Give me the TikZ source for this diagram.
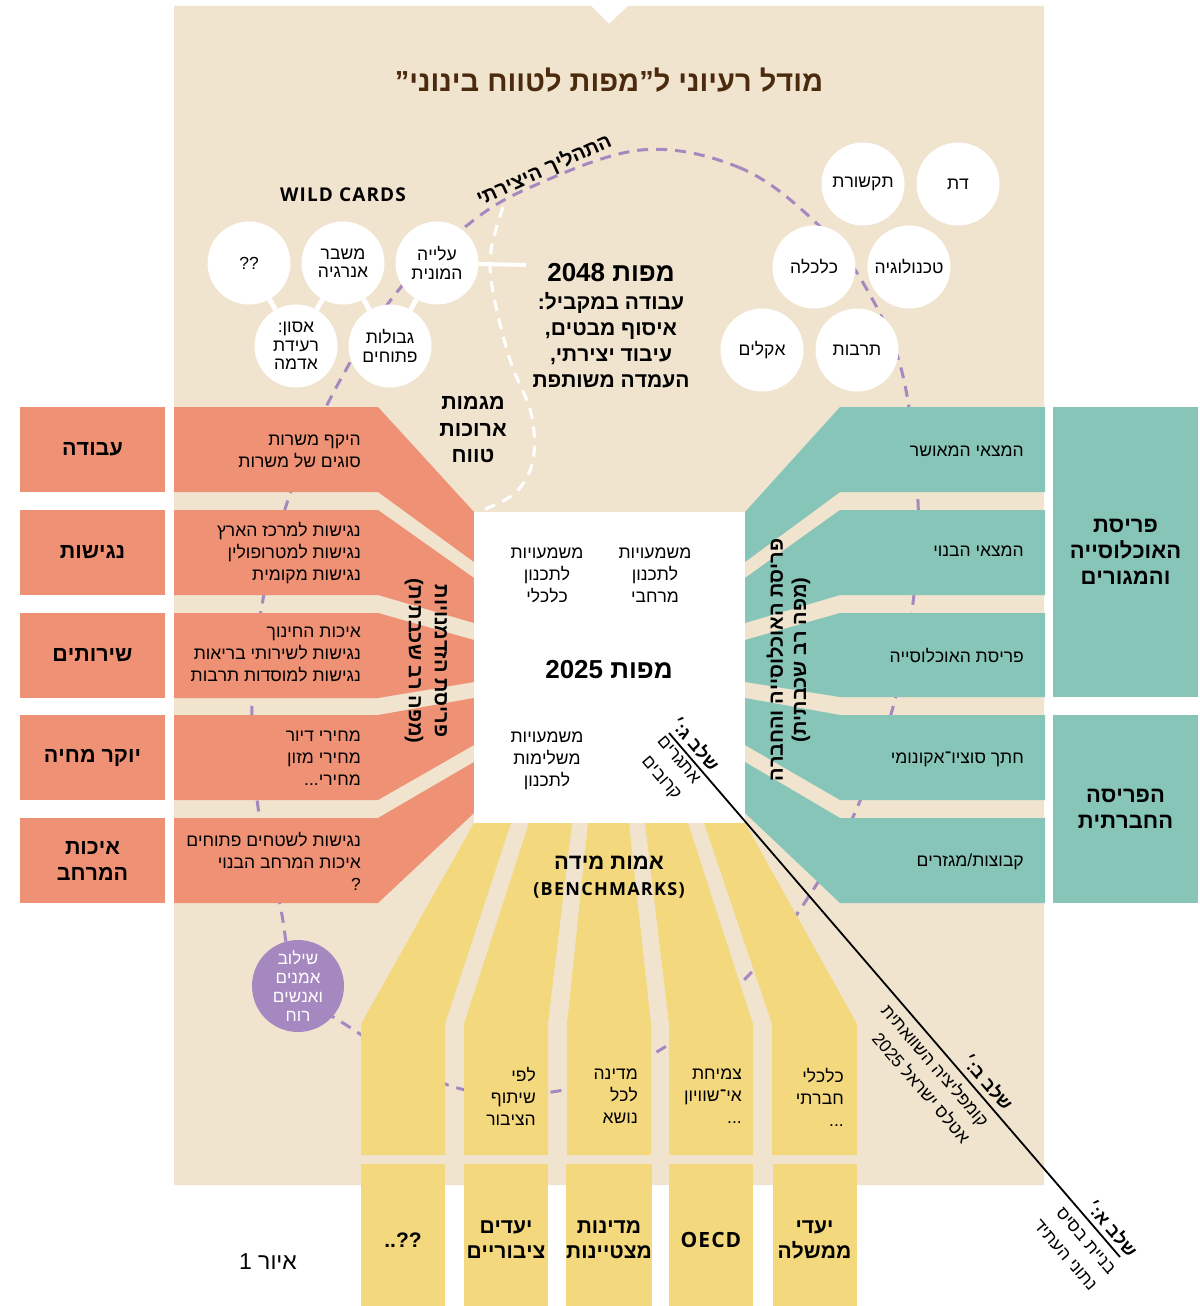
\documentclass[tikz,border=0pt]{standalone}
\usepackage{fontspec}
\setmainfont{Liberation Sans}
\newfontfamily\os{Open Sans}
\TeXXeTstate=1
\usetikzlibrary{calc}
\definecolor{bgc}{HTML}{F0E4CF}
\definecolor{orng}{HTML}{EE9175}
\definecolor{tealc}{HTML}{86C5B8}
\definecolor{yel}{HTML}{F3D87E}
\definecolor{purp}{HTML}{A688C0}
\definecolor{brn}{HTML}{4B2A0E}
\newcommand{\HR}[1]{\beginR#1\endR}
\tikzset{
  body/.style={font=\fontsize{17.5}{22}\selectfont, inner sep=0pt},
  circ/.style={circle, fill=white, minimum size=83pt, inner sep=0pt, align=center, font=\fontsize{17.5}{18.5}\selectfont},
  lbox/.style={inner sep=0pt, align=center, font=\bfseries\fontsize{21.5}{26}\selectfont},
  ybox/.style={fill=yel, minimum width=84pt, minimum height=152pt, inner sep=0pt, align=center, font=\bfseries\fontsize{21}{25}\selectfont},
  vlab/.style={inner sep=0pt, font=\bfseries\fontsize{20}{22}\selectfont},
  stg/.style={inner sep=0pt, anchor=east, rotate=-49.3, font=\bfseries\fontsize{18}{20}\selectfont},
  stgt/.style={inner sep=0pt, anchor=east, rotate=-49.3, align=right, font=\fontsize{17.5}{25}\selectfont},
  pdash/.style={purp, line width=3pt, dash pattern=on 11pt off 8pt},
  wdash/.style={white, line width=3pt, dash pattern=on 11pt off 8pt},
}
\begin{document}
\begin{tikzpicture}[x=1pt,y=-1pt]
\useasboundingbox (0,0) rectangle (1199,1306);
\fill[white] (0,0) rectangle (1199,1306);
\fill[bgc] (174,6) -- (591,6) -- (609,24) -- (628,6) -- (1044,6) -- (1044,1185) -- (174,1185) -- cycle;

% creative process loop
\draw[pdash] plot[smooth cycle, tension=0.6] coordinates {
 (641,150) (738,167) (811,218) (862,281) (902,372) (918,502) (913,603) (893,707)
 (857,808) (813,890) (747,977) (660,1050) (558,1091) (454,1087) (354,1030) (298,985)
 (280,905) (258,807) (252,703) (262,605) (287,503) (328,403) (393,297) (465,227) (531,187)};
\draw[wdash] plot[smooth, tension=0.6] coordinates {(503,207) (491,251) (493,292) (510,360) (531,413) (533,460) (515,493) (478,512)};

% title
\node[font=\bfseries\fontsize{29}{32}\selectfont, text=brn] (title) at (609,80) {"\HR{מודל רעיוני ל"מפות לטווח בינוני}};
\node[font=\os\bfseries\fontsize{19}{22}\selectfont\addfontfeature{LetterSpace=6}] (wild) at (343,195) {WILD CARDS};
\node[font=\bfseries\fontsize{20}{22}\selectfont, rotate=24.5] (proc) at (544,170) {\HR{התהליך היצירתי}};

% wild cards
\node[circ] (wc1) at (249,263) {??};
\node[circ] (wc2) at (343,263) {\HR{משבר}\\\HR{אנרגיה}};
\node[circ] (wc3) at (437,263) {\HR{עלייה}\\\HR{המונית}};
\node[circ] (wc4) at (296,346) {:\HR{אסון}\\\HR{רעידת}\\\HR{אדמה}};
\node[circ] (wc5) at (390,346) {\HR{גבולות}\\\HR{פתוחים}};
\draw[white, line width=5pt] (wc1) -- (wc4);
\draw[white, line width=5pt] (wc2) -- (wc4);
\draw[white, line width=5pt] (wc2) -- (wc5);
\draw[white, line width=5pt] (wc3) -- (wc5);
\coordinate (m48) at (526,265);
\draw[white, line width=4pt] (wc3) -- (m48);

% context circles
\node[circ] (rc1) at (958,184) {\HR{דת}};
\node[circ] (rc2) at (863,184) {\HR{תקשורת}};
\node[circ] (rc3) at (909,267) {\HR{טכנולוגיה}};
\node[circ] (rc4) at (814,267) {\HR{כלכלה}};
\node[circ] (rc5) at (762,350) {\HR{אקלים}};
\node[circ] (rc6) at (857,350) {\HR{תרבות}};

% 2048 text
\node[font=\bfseries\fontsize{26}{28}\selectfont] (m2048) at (611,273) {\HR{מפות 2048}};
\node[font=\bfseries\fontsize{21}{26}\selectfont, align=center, anchor=north] (m2048b) at (611,289) {:\HR{עבודה במקביל}\\,\HR{איסוף מבטים}\\,\HR{עיבוד יצירתי}\\\HR{העמדה משותפת}};
\node[font=\bfseries\fontsize{21.5}{26.5}\selectfont, align=center] (trend) at (473,430) {\HR{מגמות}\\\HR{ארוכות}\\\HR{טווח}};

% left orange bars
\fill[orng] (174,407) -- (378,407) -- (474,512) -- (474,562) -- (378,492) -- (174,492) -- cycle;
\fill[orng] (174,510) -- (378,510) -- (474,578) -- (474,623) -- (378,595) -- (174,595) -- cycle;
\fill[orng] (174,613) -- (378,613) -- (474,640) -- (474,682) -- (378,698) -- (174,698) -- cycle;
\fill[orng] (174,715) -- (378,715) -- (474,698) -- (474,745) -- (378,800) -- (174,800) -- cycle;
\fill[orng] (174,818) -- (378,818) -- (474,762) -- (474,813) -- (378,903) -- (174,903) -- cycle;
\node[lbox, fill=orng, minimum width=145pt, minimum height=85pt] (lb1) at (92.5,449.5) {\HR{עבודה}};
\node[lbox, fill=orng, minimum width=145pt, minimum height=85pt] (lb2) at (92.5,552.5) {\HR{נגישות}};
\node[lbox, fill=orng, minimum width=145pt, minimum height=85pt] (lb3) at (92.5,655.5) {\HR{שירותים}};
\node[lbox, fill=orng, minimum width=145pt, minimum height=85pt] (lb4) at (92.5,757.5) {\HR{יוקר מחיה}};
\node[lbox, fill=orng, minimum width=145pt, minimum height=85pt] (lb5) at (92.5,860.5) {\HR{איכות}\\\HR{המרחב}};
\node[body, align=right, anchor=east] (lt1) at (361,451) {\HR{היקף משרות}\\\HR{סוגים של משרות}};
\node[body, align=right, anchor=east] (lt2) at (361,553) {\HR{נגישות למרכז הארץ}\\\HR{נגישות למטרופולין}\\\HR{נגישות מקומית}};
\node[body, align=right, anchor=east] (lt3) at (361,654) {\HR{איכות החינוך}\\\HR{נגישות לשירותי בריאות}\\\HR{נגישות למוסדות תרבות}};
\node[body, align=right, anchor=east] (lt4) at (361,758) {\HR{מחירי דיור}\\\HR{מחירי מזון}\\...\HR{מחירי}};
\node[body, align=right, anchor=east] (lt5) at (361,861) {\HR{נגישות לשטחים פתוחים}\\\HR{איכות המרחב הבנוי}\\?};

% right teal bars
\fill[tealc] (1045,407) -- (840,407) -- (745,512) -- (745,562) -- (840,492) -- (1045,492) -- cycle;
\fill[tealc] (1045,510) -- (840,510) -- (745,578) -- (745,623) -- (840,595) -- (1045,595) -- cycle;
\fill[tealc] (1045,613) -- (840,613) -- (745,640) -- (745,682) -- (840,697) -- (1045,697) -- cycle;
\fill[tealc] (1045,715) -- (840,715) -- (745,698) -- (745,745) -- (840,800) -- (1045,800) -- cycle;
\fill[tealc] (1045,818) -- (840,818) -- (745,762) -- (745,813) -- (840,903) -- (1045,903) -- cycle;
\node[lbox, fill=tealc, minimum width=145pt, minimum height=290pt, font=\bfseries\fontsize{22}{26}\selectfont] (rb1) at (1125.5,552) {\HR{פריסת}\\\HR{האוכלוסייה}\\\HR{והמגורים}};
\node[lbox, fill=tealc, minimum width=145pt, minimum height=188pt, font=\bfseries\fontsize{22}{26}\selectfont] (rb2) at (1125.5,809) {\HR{הפריסה}\\\HR{החברתית}};
\node[body, anchor=east] (rt1) at (1024,451) {\HR{המצאי המאושר}};
\node[body, anchor=east] (rt2) at (1024,551) {\HR{המצאי הבנוי}};
\node[body, anchor=east] (rt3) at (1024,656) {\HR{פריסת האוכלוסייה}};
\node[body, anchor=east] (rt4) at (1024,759) {\HR{חתך סוציו־אקונומי}};
\node[body, anchor=east] (rt5) at (1024,862) {\HR{קבוצות/מגזרים}};

% yellow benchmark columns
\fill[yel] (474,823) -- (361,1024) -- (361,1155) -- (445,1155) -- (445,1024) -- (511,823) -- cycle;
\fill[yel] (529,823) -- (464,1024) -- (464,1155) -- (548,1155) -- (548,1024) -- (572,823) -- cycle;
\fill[yel] (588,823) -- (567,1024) -- (567,1155) -- (651,1155) -- (651,1024) -- (629,823) -- cycle;
\fill[yel] (645,823) -- (669,1024) -- (669,1155) -- (753,1155) -- (753,1024) -- (688,823) -- cycle;
\fill[yel] (704,823) -- (772,1024) -- (772,1155) -- (857,1155) -- (857,1024) -- (745,823) -- cycle;
\node[ybox] (yb1) at (403,1240) {..??};
\node[ybox] (yb2) at (506,1240) {\HR{יעדים}\\\HR{ציבוריים}};
\node[ybox] (yb3) at (609,1240) {\HR{מדינות}\\\HR{מצטיינות}};
\node[ybox, font=\os\bfseries\fontsize{21}{25}\selectfont\addfontfeature{LetterSpace=5}] (yb4) at (711,1240) {OECD};
\node[ybox] (yb5) at (814.5,1240) {\HR{יעדי}\\\HR{ממשלה}};
\node[body, align=right, anchor=east] (yt2) at (536,1096) {\HR{לפי}\\\HR{שיתוף}\\\HR{הציבור}};
\node[body, align=right, anchor=east] (yt3) at (638,1096) {\HR{מדינה}\\\HR{לכל}\\\HR{נושא}};
\node[body, align=right, anchor=east] (yt4) at (742,1096) {\HR{צמיחת}\\\HR{אי־שוויון}\\...};
\node[body, align=right, anchor=east] (yt5) at (844,1097) {\HR{כלכלי}\\\HR{חברתי}\\...};
\node[font=\bfseries\fontsize{22}{24}\selectfont] (bm1) at (609,863) {\HR{אמות מידה}};
\node[font=\os\bfseries\fontsize{18}{20}\selectfont\addfontfeature{LetterSpace=7}] (bm2) at (609,890) {(BENCHMARKS)};

% center map 2025
\node[fill=white, minimum width=271pt, minimum height=311pt, inner sep=0pt] (map25) at (609.5,667.5) {};
\node[body, align=center] (c1) at (655,575) {\HR{משמעויות}\\\HR{לתכנון}\\\HR{מרחבי}};
\node[body, align=center] (c2) at (547,575) {\HR{משמעויות}\\\HR{לתכנון}\\\HR{כלכלי}};
\node[font=\bfseries\fontsize{26}{28}\selectfont] (c3) at (609,670) {\HR{מפות 2025}};
\node[body, align=center] (c4) at (547,761) {\HR{משמעויות}\\\HR{משלימות}\\\HR{לתכנון}};

% vertical labels
\node[vlab, rotate=-90] (vl1) at (441,661) {\HR{פריסת הזדמנויות}};
\node[vlab, rotate=-90] (vl2) at (414,661) {(\HR{מפה רב שכבתית})};
\node[vlab, rotate=90] (vr1) at (775,660) {\HR{פריסת האוכלוסייה והחברה}};
\node[vlab, rotate=90] (vr2) at (801,660) {(\HR{מפה רב שכבתית})};

% artists circle
\node[circle, fill=purp, minimum size=92pt, inner sep=0pt, align=center, text=white, font=\fontsize{17}{19}\selectfont] (art) at (298,986) {\HR{שילוב}\\\HR{אמנים}\\\HR{ואנשים}\\\HR{רוח}};

% stages line
\coordinate (L0) at (669,733);
\coordinate (L1) at (1120,1257);
\draw[black, line width=1.8pt] (L0) -- (L1);
\begin{scope}[shift={(L0)}, rotate=-49.3]
  \node[stg] (s3) at (57,-13) {:׳\HR{שלב ג}};
  \node[stgt] (s3a) at (55,24) {\HR{אתגרים}\\\HR{קרובים}};
  \node[stg] (s2) at (506,-14) {:׳\HR{שלב ב}};
  \node[stgt] (s2a) at (503,27) {\HR{קומפליציה השוואתית}\\\HR{אטלס ישראל 2025}};
  \node[stg] (s1) at (698,-13) {:׳\HR{שלב א}};
  \node[stgt] (s1a) at (698,28) {\HR{בניית בסיס}\\\HR{נתוני העתיד}};
\end{scope}

\node[font=\fontsize{23}{26}\selectfont] (fig) at (268,1262) {\HR{איור 1}};
\end{tikzpicture}
\end{document}
